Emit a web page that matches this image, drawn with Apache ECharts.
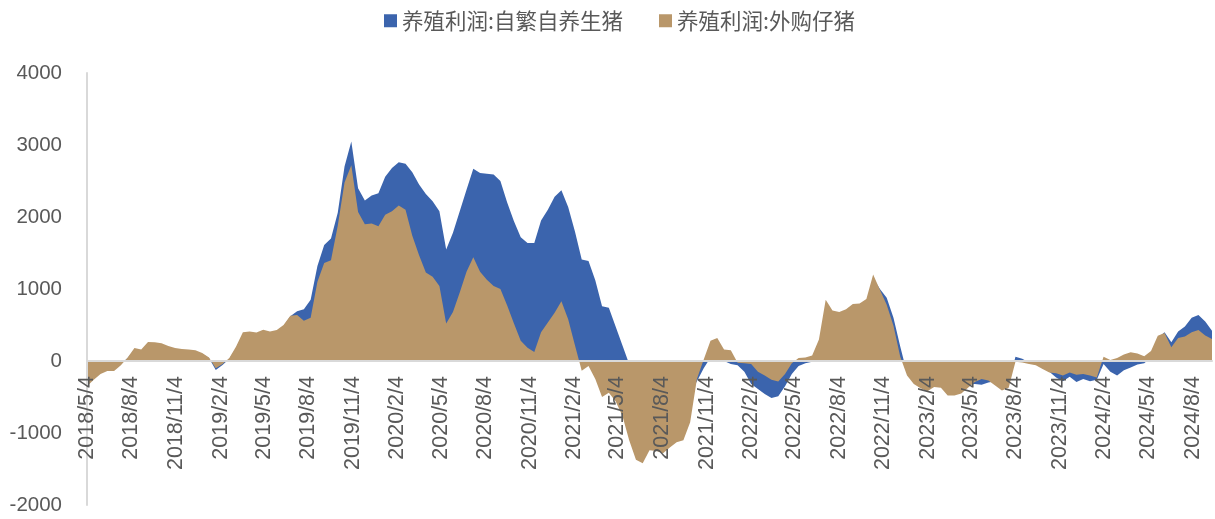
<!DOCTYPE html>
<html>
<head>
<meta charset="utf-8">
<script src="https://cdn.jsdelivr.net/npm/echarts@6/dist/echarts.min.js"></script>
<style>
html,body{margin:0;padding:0;background:#fff;}
#chart{width:1215px;height:519px;}
</style>
</head>
<body>
<div id="chart"></div>
<script>
// Biweekly sample dates starting 2018/5/4 (167 points, ending 2024/9/13)
const startDate = [2018, 5, 4];
const stepDays = 14;
const pointCount = 167;

const seriesNames = ['养殖利润:自繁自养生猪', '养殖利润:外购仔猪'];

// 养殖利润:自繁自养生猪 (元/头)
const selfBred = [
  -250,-180,-120,-100,-100,-40,40,160,140,240,
  240,220,190,160,150,140,130,100,40,-125,
  -55,30,180,370,380,370,410,390,410,480,
  620,690,720,850,1320,1610,1700,2060,2700,3050,
  2400,2230,2300,2330,2560,2680,2760,2740,2620,2450,
  2320,2220,2080,1550,1780,2080,2380,2670,2610,2600,
  2590,2500,2200,1940,1720,1640,1640,1950,2100,2280,
  2370,2140,1800,1410,1390,1120,760,740,480,220,
  -40,-300,-450,-500,-550,-600,-650,-650,-600,-450,
  -280,-100,50,100,0,-40,-60,-150,-320,-390,
  -460,-515,-490,-350,-180,-70,-30,-10,200,750,
  600,600,650,720,730,800,1150,1000,880,600,
  200,-170,-250,-300,-330,-280,-300,-380,-400,-380,
  -330,-320,-330,-300,-280,-330,-300,60,30,-20,
  -40,-90,-150,-230,-280,-220,-290,-250,-280,-260,
  -40,-150,-200,-130,-90,-50,-30,50,320,400,
  260,410,480,600,640,550,420
];

// 养殖利润:外购仔猪 (元/头)
const purchased = [
  -350,-260,-180,-140,-140,-60,50,180,160,265,
  260,245,210,180,165,160,150,110,50,-100,
  -40,40,200,400,410,395,435,410,430,500,
  630,640,560,600,1100,1360,1400,1880,2480,2720,
  2070,1900,1910,1870,2030,2080,2160,2100,1740,1470,
  1230,1170,1040,520,680,950,1240,1440,1240,1130,
  1040,1000,770,520,280,185,125,400,535,670,
  830,580,220,-135,-70,-250,-500,-440,-560,-760,
  -1100,-1370,-1420,-1240,-1250,-1280,-1200,-1130,-1100,-850,
  -250,20,280,320,160,150,-25,-30,-40,-150,
  -200,-260,-285,-180,-30,40,50,75,300,850,
  700,680,720,790,800,860,1200,990,780,490,
  60,-200,-320,-380,-420,-360,-370,-480,-480,-450,
  -370,-290,-250,-270,-340,-410,-370,-10,-20,-40,
  -60,-110,-160,-170,-200,-160,-190,-180,-200,-230,
  60,15,40,90,120,105,65,140,350,390,
  190,320,340,400,430,355,305
];

const xTickLabels = [
  '2018/5/4','2018/8/4','2018/11/4','2019/2/4','2019/5/4','2019/8/4','2019/11/4',
  '2020/2/4','2020/5/4','2020/8/4','2020/11/4','2021/2/4','2021/5/4','2021/8/4',
  '2021/11/4','2022/2/4','2022/5/4','2022/8/4','2022/11/4','2023/2/4','2023/5/4',
  '2023/8/4','2023/11/4','2024/2/4','2024/5/4','2024/8/4'
];

const yMin = -2000, yMax = 4000, yInterval = 1000;

function parseYMD(s) {
  const p = s.split('/').map(Number);
  return new Date(p[0], p[1] - 1, p[2]).getTime();
}
const dates = [];
for (let i = 0; i < pointCount; i++) {
  dates.push(new Date(startDate[0], startDate[1] - 1, startDate[2] + stepDays * i).getTime());
}
const tickValues = xTickLabels.map(parseYMD);

const blue = '#3b64ad';
const brown = '#b9976a';
const textColor = '#595959';
const fontFam = '"Liberation Sans", Arial, "Noto Sans CJK SC", sans-serif';

const gridTop = 73, gridBottom = 14, chartH = 519;
// place the date axis on the zero line of the value axis
const plotH = chartH - gridTop - gridBottom;
const zeroOffset = -plotH * (0 - yMin) / (yMax - yMin);

const chart = echarts.init(document.getElementById('chart'), null, {renderer: 'canvas'});
chart.setOption({
  animation: false,
  backgroundColor: '#fff',
  textStyle: {fontFamily: fontFam},
  legend: {
    top: 5,
    left: 379,
    itemWidth: 13,
    itemHeight: 13,
    itemGap: 36,
    icon: 'rect',
    textStyle: {fontSize: 21.5, color: textColor, fontFamily: '"Noto Sans CJK SC", sans-serif'},
    data: seriesNames
  },
  grid: {left: 87, right: 3, top: gridTop, bottom: gridBottom, containLabel: false, outerBoundsMode: 'none'},
  xAxis: {
    type: 'value',
    min: dates[0],
    max: dates[dates.length - 1],
    scale: true,
    offset: zeroOffset,
    z: 10,
    splitLine: {show: false},
    axisTick: {show: false},
    axisLine: {show: true, onZero: false, lineStyle: {color: '#d9d9d9', width: 2}},
    axisLabel: {
      rotate: 90,
      fontSize: 21.5,
      color: textColor,
      margin: 15,
      customValues: tickValues,
      hideOverlap: false,
      formatter: function (v) {
        const d = new Date(v);
        return d.getFullYear() + '/' + (d.getMonth() + 1) + '/' + d.getDate();
      }
    }
  },
  yAxis: {
    type: 'value',
    min: yMin,
    max: yMax,
    interval: yInterval,
    z: 10,
    splitLine: {show: false},
    axisTick: {show: false},
    axisLine: {show: true, onZero: false, lineStyle: {color: '#d9d9d9', width: 2}},
    axisLabel: {fontSize: 20.5, color: textColor, margin: 25, formatter: function (v) { return String(v); }}
  },
  series: [
    {
      name: seriesNames[0],
      type: 'line',
      data: dates.map((d, i) => [d, selfBred[i]]),
      symbol: 'none',
      lineStyle: {width: 0, color: blue},
      itemStyle: {color: blue},
      areaStyle: {color: blue, opacity: 1},
      z: 2
    },
    {
      name: seriesNames[1],
      type: 'line',
      data: dates.map((d, i) => [d, purchased[i]]),
      symbol: 'none',
      lineStyle: {width: 0, color: brown},
      itemStyle: {color: brown},
      areaStyle: {color: brown, opacity: 1},
      z: 3
    }
  ]
});
</script>
</body>
</html>
